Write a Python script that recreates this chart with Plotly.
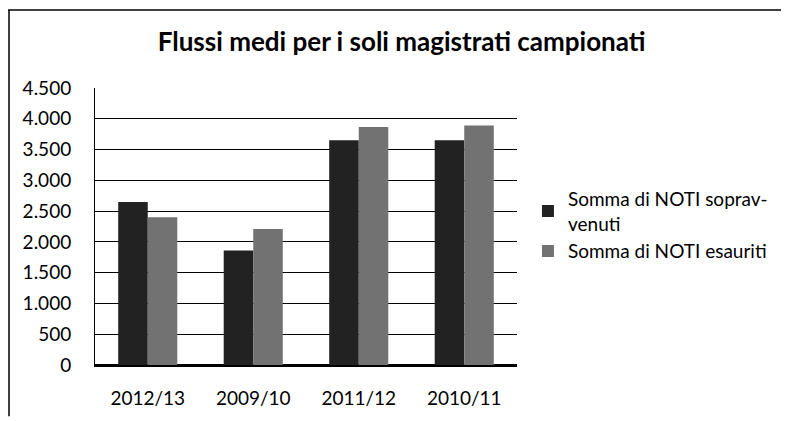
import plotly.graph_objects as go

categories = ["2012/13", "2009/10", "2011/12", "2010/11"]
sopravvenuti = [2650, 1860, 3650, 3650]
esauriti = [2400, 2210, 3865, 3890]
series_names = ["Somma di NOTI soprav-<br>venuti", "Somma di NOTI esauriti"]

# page has an 8px body margin, so the figure is slightly smaller
W, H = 781, 413
ml, mr, mt, mb = 87, 272, 80, 52

fig = go.Figure()
fig.add_trace(go.Bar(x=categories, y=sopravvenuti, name=series_names[0],
                     marker=dict(color="#222222", line=dict(width=0))))
fig.add_trace(go.Bar(x=categories, y=esauriti, name=series_names[1],
                     marker=dict(color="#727272", line=dict(width=0))))

pw = W - ml - mr
ph = H - mt - mb
# outer frame (top and left edges as in the scanned reference)
fig.add_shape(type="line", xref="paper", yref="paper",
              x0=(0 - ml) / pw, x1=(W - ml) / pw,
              y0=(H - mb - 1) / ph, y1=(H - mb - 1) / ph,
              line=dict(color="black", width=1.5))
fig.add_shape(type="line", xref="paper", yref="paper",
              x0=(1 - ml) / pw, x1=(1 - ml) / pw,
              y0=(H - mb - 1) / ph, y1=(-mb) / ph,
              line=dict(color="black", width=1.5))

fig.update_layout(
    width=W, height=H,
    margin=dict(l=ml, r=mr, t=mt, b=mb),
    paper_bgcolor="white", plot_bgcolor="white",
    separators=",.",
    barmode="group", bargap=0.44, bargroupgap=0,
    font=dict(family="Lato, Open Sans, sans-serif", color="black", size=19),
    title=dict(text="<b>Flussi medi per i soli magistrati campionati</b>",
               x=0.504, xanchor="center", y=1 - 34 / H, yanchor="middle",
               font=dict(size=26, color="black")),
    legend=dict(x=1.026, y=0.669, xanchor="left", yanchor="top",
                font=dict(size=19), itemwidth=30,
                bgcolor="rgba(0,0,0,0)"),
    xaxis=dict(showline=True, linecolor="black", linewidth=1.5,
               ticks="", tickfont=dict(size=19), ticklabelstandoff=15,
               showgrid=False),
    yaxis=dict(range=[0, 4500], dtick=500, tickformat=",d",
               showgrid=True, gridcolor="black", gridwidth=1.3,
               showline=True, linecolor="black", linewidth=1,
               zeroline=True, zerolinecolor="black", zerolinewidth=1.5,
               ticks="", tickfont=dict(size=19), ticklabelstandoff=19),
)

fig.write_html("out.html")
